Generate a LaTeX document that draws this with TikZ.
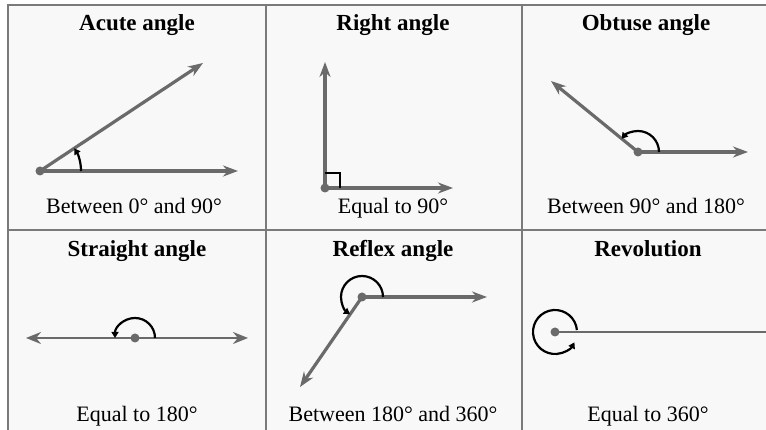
\documentclass[tikz,border=0pt]{standalone}
\usepackage{fontspec}
\setmainfont{Liberation Serif}
\usetikzlibrary{arrows.meta}
\definecolor{raygray}{HTML}{6A6A6A}
\definecolor{gridgray}{HTML}{7A7A7A}
\definecolor{paper}{HTML}{F8F8F8}
\begin{document}
\begin{tikzpicture}[x=1pt, y=1pt,
  every node/.style={font=\fontsize{22}{26}\selectfont, inner sep=0pt},
  title/.style={anchor=base, font=\fontsize{23}{27}\selectfont\bfseries},
  caption/.style={anchor=base},
  ray/.style={draw=raygray, line width=3.2pt, -{Stealth[length=15pt, width=11pt]}},
  thinray/.style={draw=raygray, line width=2pt},
  turn/.style={draw=black, line width=2.2pt, -{Triangle[length=6pt, width=7pt]}}]
  \useasboundingbox (0,0) rectangle (766,430);
  \fill[white] (0,0) rectangle (766,430);
  \fill[paper] (8,0) rectangle (766,425);

  % grid
  \draw[gridgray, line width=1.5pt] (8,0) -- (8,425) -- (766,425);
  \foreach \x in {266,522} {
    \draw[gridgray, line width=1.5pt] (\x,0) -- (\x,425);
  }
  \draw[gridgray, line width=1.5pt] (8,200) -- (766,200);

  % acute angle
  \node[title] (acute) at (137,399) {Acute angle};
  \coordinate (a0) at (40,259);
  \coordinate (a1) at (238,259);
  \coordinate (a2) at (203,367);
  \draw[ray] (a0) -- (a1);
  \draw[ray] (a0) -- (a2);
  \fill[raygray] (a0) circle (4.5);
  \draw[turn] ([xshift=41pt]a0) arc[start angle=0, end angle=33.5, radius=41];
  \node[caption] (acutetxt) at (134,216) {Between 0° and 90°};

  % right angle
  \node[title] (right) at (393,399) {Right angle};
  \coordinate (b0) at (325,242);
  \coordinate (b1) at (453,242);
  \coordinate (b2) at (325,368);
  \draw[ray] (b0) -- (b1);
  \draw[ray] (b0) -- (b2);
  \fill[raygray] (b0) circle (4.5);
  \draw[black, line width=2.2pt] ([xshift=15pt]b0) |- ([yshift=15pt]b0);
  \node[caption] (righttxt) at (393,216) {Equal to 90°};

  % obtuse angle
  \node[title] (obtuse) at (646,399) {Obtuse angle};
  \coordinate (c0) at (638,278);
  \coordinate (c1) at (748,278);
  \coordinate (c2) at (551,349);
  \draw[ray] (c0) -- (c1);
  \draw[ray] (c0) -- (c2);
  \fill[raygray] (c0) circle (4.5);
  \draw[turn] ([xshift=21pt]c0) arc[start angle=0, end angle=141, radius=21];
  \node[caption] (obtusetxt) at (646,216) {Between 90° and 180°};

  % straight angle
  \node[title] (straight) at (137,173) {Straight angle};
  \coordinate (d0) at (135,92);
  \coordinate (d1) at (26,92);
  \coordinate (d2) at (248,92);
  \draw[thinray, {Stealth[length=15pt, width=12pt]}-{Stealth[length=15pt, width=12pt]}] (d1) -- (d2);
  \fill[raygray] (d0) circle (4.5);
  \draw[turn] ([xshift=20pt]d0) arc[start angle=0, end angle=180, radius=20];
  \node[caption] (straighttxt) at (137,8) {Equal to 180°};

  % reflex angle
  \node[title] (reflex) at (393,173) {Reflex angle};
  \coordinate (e0) at (362,133);
  \coordinate (e1) at (487,133);
  \coordinate (e2) at (300,43);
  \draw[ray] (e0) -- (e1);
  \draw[ray] (e0) -- (e2);
  \fill[raygray] (e0) circle (4.5);
  \draw[turn] ([xshift=21pt]e0) arc[start angle=0, end angle=235, radius=21];
  \node[caption] (reflextxt) at (393,8) {Between 180° and 360°};

  % revolution
  \node[title] (revolution) at (648,173) {Revolution};
  \coordinate (f0) at (555,98);
  \coordinate (f1) at (766,98);
  \draw[thinray] (f0) -- (f1);
  \fill[raygray] (f0) circle (4.5);
  \draw[turn] ([shift={(5:22)}]f0) arc[start angle=5, end angle=332, radius=22];
  \node[caption] (revolutiontxt) at (648,8) {Equal to 360°};
\end{tikzpicture}
\end{document}
